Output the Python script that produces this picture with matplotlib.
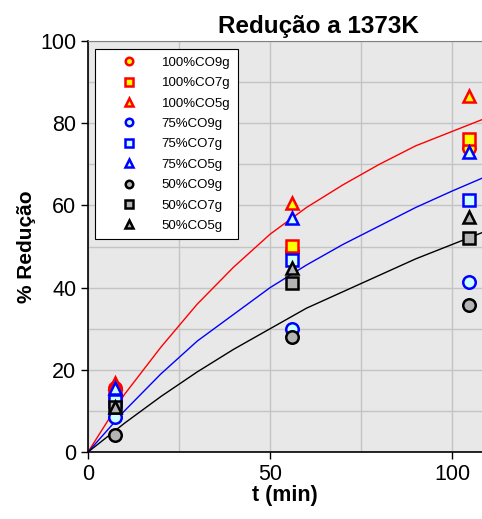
import matplotlib.pyplot as plt
from matplotlib.ticker import MultipleLocator

plt.rcParams['font.family'] = ['Liberation Sans', 'DejaVu Sans']

# experimental points (t in min, % reduction)
t_pts = [7.5, 56, 104.5]
co100_9g = [15.5, 49.0, 74.0]
co100_7g = [13.5, 50.2, 76.2]
co100_5g = [16.8, 60.6, 86.6]
co75_9g = [8.5, 30.0, 41.3]
co75_7g = [12.5, 46.7, 61.2]
co75_5g = [15.5, 57.0, 73.0]
co50_9g = [4.2, 28.0, 35.8]
co50_7g = [11.0, 41.2, 52.0]
co50_5g = [11.0, 44.8, 57.3]

# model curves
t_line = [0, 10, 20, 30, 40, 50, 60, 70, 80, 90, 100, 110]
line_100 = [0, 14, 25.5, 36, 45, 53, 59.5, 65, 70, 74.5, 78, 81.5]
line_75 = [0, 10, 19, 27, 33.5, 40, 45.5, 50.5, 55, 59.5, 63.5, 67.3]
line_50 = [0, 7, 13.5, 19.5, 25, 30, 35, 39, 43, 47, 50.5, 54]

fig = plt.figure(figsize=(4.82, 5.19), dpi=100)
ax = fig.add_axes([0.1826, 0.129, 0.8174, 0.792])
ax.set_facecolor('#E8E8E8')

ax.plot(t_line, line_100, color='red', lw=1, zorder=2)
ax.plot(t_line, line_75, color='blue', lw=1, zorder=2)
ax.plot(t_line, line_50, color='black', lw=1, zorder=2)

series = [
    ('100%CO9g', co100_9g, 'o', 'red', 'yellow'),
    ('100%CO7g', co100_7g, 's', 'red', 'yellow'),
    ('100%CO5g', co100_5g, '^', 'red', 'yellow'),
    ('75%CO9g', co75_9g, 'o', 'blue', '#CCFFFF'),
    ('75%CO7g', co75_7g, 's', 'blue', '#CCFFFF'),
    ('75%CO5g', co75_5g, '^', 'blue', '#CCFFFF'),
    ('50%CO9g', co50_9g, 'o', 'black', '#B4B4B4'),
    ('50%CO7g', co50_7g, 's', 'black', '#B4B4B4'),
    ('50%CO5g', co50_5g, '^', 'black', '#B4B4B4'),
]
for name, vals, mk, ec, fc in series:
    ax.plot(t_pts, vals, ls='none', marker=mk, ms=9, mec=ec, mfc=fc,
            mew=1.8, label=name, zorder=3)

ax.set_xlim(0, 108.2)
ax.set_ylim(0, 100)
ax.xaxis.set_major_locator(MultipleLocator(50))
ax.xaxis.set_minor_locator(MultipleLocator(25))
ax.yaxis.set_major_locator(MultipleLocator(20))
ax.yaxis.set_minor_locator(MultipleLocator(10))
ax.grid(True, which='both', color='#C4C4C4', lw=1)
ax.set_axisbelow(True)
ax.tick_params(which='major', direction='out', length=5, labelsize=15.5, width=1)
ax.tick_params(which='minor', length=0)
ax.spines['right'].set_visible(False)
ax.spines['top'].set_color('#808080')
ax.spines['left'].set_linewidth(1.2)
ax.spines['bottom'].set_linewidth(1.2)

ax.set_title('Redução a 1373K', fontsize=17.5, fontweight='bold', pad=6, x=0.585)
ax.set_xlabel('t (min)', fontsize=15.5, fontweight='bold', labelpad=0, x=0.5)
ax.set_ylabel('% Redução', fontsize=15, fontweight='bold', labelpad=3)

leg = ax.legend(loc='upper left', bbox_to_anchor=(0.018, 0.98), borderaxespad=0,
                fontsize=9.5, markerscale=0.6, fancybox=False, framealpha=1,
                edgecolor='black', handletextpad=0.5, borderpad=0.55,
                labelspacing=0.62, handlelength=4.0)
leg.get_frame().set_linewidth(0.8)

fig.savefig('out.png', dpi=100)
